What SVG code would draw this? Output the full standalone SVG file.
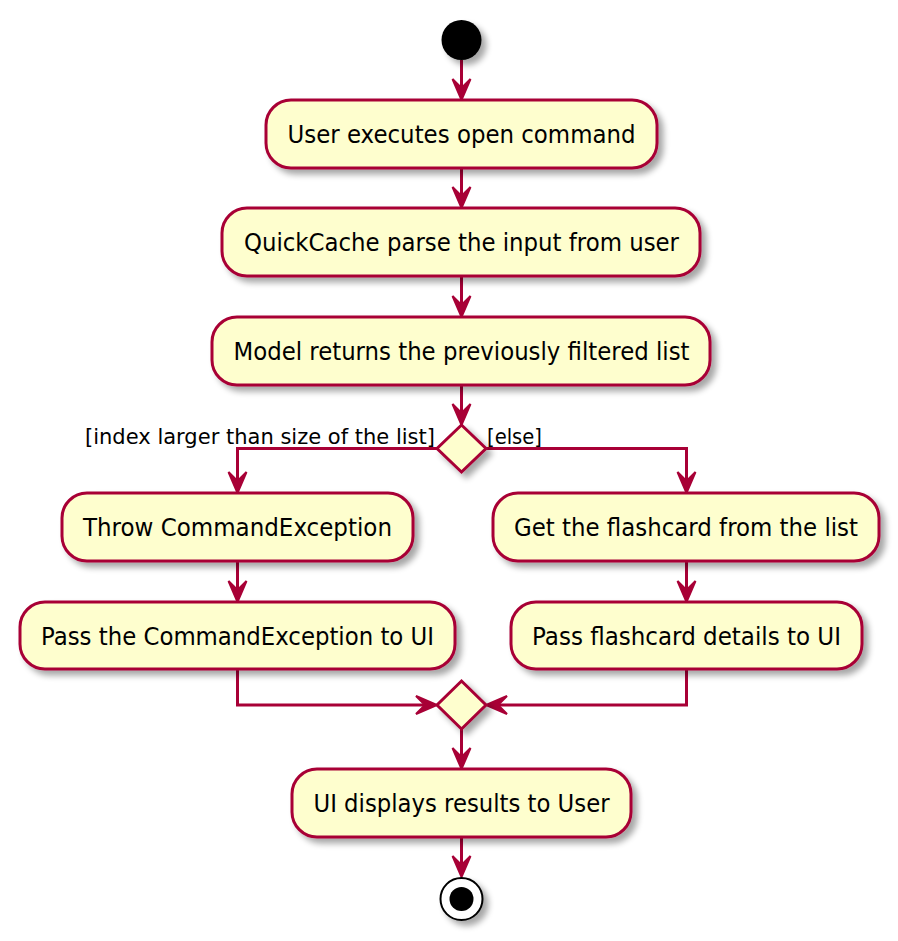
<svg xmlns="http://www.w3.org/2000/svg" width="898" height="941" viewBox="0 0 898 941">
<style>
.act{fill:#FEFECE;stroke:#A80036;stroke-width:3;}
.dia{fill:#FEFECE;stroke:#A80036;stroke-width:3;}
.lbl{font-family:"DejaVu Sans",sans-serif;font-size:24px;fill:#000;text-anchor:middle;}
.glbl{font-family:"DejaVu Sans",sans-serif;font-size:22px;fill:#000;}
.ln{fill:none;stroke:#A80036;stroke-width:3;}
.ah{fill:#A80036;stroke:#A80036;stroke-width:2;stroke-linejoin:miter;}
</style>
<defs>
<filter id="sh" x="-20%" y="-20%" width="150%" height="160%">
<feGaussianBlur in="SourceAlpha" stdDeviation="3"/>
<feOffset dx="5" dy="5" result="b"/>
<feComponentTransfer><feFuncA type="linear" slope="0.35"/></feComponentTransfer>
<feMerge><feMergeNode/><feMergeNode in="SourceGraphic"/></feMerge>
</filter>
</defs>
<rect width="898" height="941" fill="#FFFFFF"/>

<g id="connectors">
<path class="ln" d="M461.5,60 V98"/>
<polygon class="ah" points="452.5,79 461.5,100 470.5,79 461.5,88"/>
<path class="ln" d="M461.5,168 V206"/>
<polygon class="ah" points="452.5,187 461.5,208 470.5,187 461.5,196"/>
<path class="ln" d="M461.5,276 V315"/>
<polygon class="ah" points="452.5,296 461.5,317 470.5,296 461.5,305"/>
<path class="ln" d="M461.5,385 V423"/>
<polygon class="ah" points="452.5,404 461.5,425 470.5,404 461.5,413"/>
<path class="ln" d="M437,448.5 H237.5 V491"/>
<polygon class="ah" points="228.5,472 237.5,493 246.5,472 237.5,481"/>
<path class="ln" d="M486,448.5 H686.5 V491"/>
<polygon class="ah" points="677.5,472 686.5,493 695.5,472 686.5,481"/>
<path class="ln" d="M237.5,561 V600"/>
<polygon class="ah" points="228.5,581 237.5,602 246.5,581 237.5,590"/>
<path class="ln" d="M686.5,561 V600"/>
<polygon class="ah" points="677.5,581 686.5,602 695.5,581 686.5,590"/>
<path class="ln" d="M237.5,669 V705 H435"/>
<polygon class="ah" points="416,696 437,705 416,714 425,705"/>
<path class="ln" d="M686.5,669 V705 H488"/>
<polygon class="ah" points="507,696 486,705 507,714 498,705"/>
<path class="ln" d="M461.5,729 V767"/>
<polygon class="ah" points="452.5,748 461.5,769 470.5,748 461.5,757"/>
<path class="ln" d="M461.5,837 V875"/>
<polygon class="ah" points="452.5,856 461.5,877 470.5,856 461.5,865"/>
<text class="glbl" x="85" y="444" textLength="350" lengthAdjust="spacingAndGlyphs">[index larger than size of the list]</text>
<text class="glbl" x="487" y="444" textLength="55" lengthAdjust="spacingAndGlyphs">[else]</text>
</g>

<g id="start">
<circle cx="461.5" cy="40" r="20" fill="#000" filter="url(#sh)"/>
</g>

<g id="n1">
<rect class="act" x="266" y="100" width="391" height="68" rx="25" ry="25" filter="url(#sh)"/>
<text class="lbl" x="461.5" y="143" textLength="348" lengthAdjust="spacingAndGlyphs">User executes open command</text>
</g>

<g id="n2">
<rect class="act" x="222" y="208" width="478" height="68" rx="25" ry="25" filter="url(#sh)"/>
<text class="lbl" x="461.5" y="251" textLength="435" lengthAdjust="spacingAndGlyphs">QuickCache parse the input from user</text>
</g>

<g id="n3">
<rect class="act" x="212" y="317" width="498" height="68" rx="25" ry="25" filter="url(#sh)"/>
<text class="lbl" x="461.5" y="360" textLength="456" lengthAdjust="spacingAndGlyphs">Model returns the previously filtered list</text>
</g>

<g id="d1">
<polygon class="dia" points="461.5,425 486,448.5 461.5,472 437,448.5" filter="url(#sh)"/>
</g>

<g id="n4">
<rect class="act" x="62" y="493" width="351" height="68" rx="25" ry="25" filter="url(#sh)"/>
<text class="lbl" x="237.5" y="536" textLength="309" lengthAdjust="spacingAndGlyphs">Throw CommandException</text>
</g>

<g id="n5">
<rect class="act" x="493" y="493" width="386" height="68" rx="25" ry="25" filter="url(#sh)"/>
<text class="lbl" x="686" y="536" textLength="344" lengthAdjust="spacingAndGlyphs">Get the flashcard from the list</text>
</g>

<g id="n6">
<rect class="act" x="20" y="602" width="435" height="67" rx="25" ry="25" filter="url(#sh)"/>
<text class="lbl" x="237.5" y="645" textLength="393" lengthAdjust="spacingAndGlyphs">Pass the CommandException to UI</text>
</g>

<g id="n7">
<rect class="act" x="511" y="602" width="351" height="67" rx="25" ry="25" filter="url(#sh)"/>
<text class="lbl" x="686.5" y="645" textLength="309" lengthAdjust="spacingAndGlyphs">Pass flashcard details to UI</text>
</g>

<g id="d2">
<polygon class="dia" points="461.5,681 486,705 461.5,729 437,705" filter="url(#sh)"/>
</g>

<g id="n8">
<rect class="act" x="292" y="769" width="339" height="68" rx="25" ry="25" filter="url(#sh)"/>
<text class="lbl" x="461.5" y="812" textLength="296" lengthAdjust="spacingAndGlyphs">UI displays results to User</text>
</g>

<g id="end">
<circle cx="461.5" cy="899" r="21" fill="#FFFFFF" stroke="#000" stroke-width="2" filter="url(#sh)"/>
<circle cx="461.5" cy="899" r="12" fill="#000"/>
</g>
</svg>
